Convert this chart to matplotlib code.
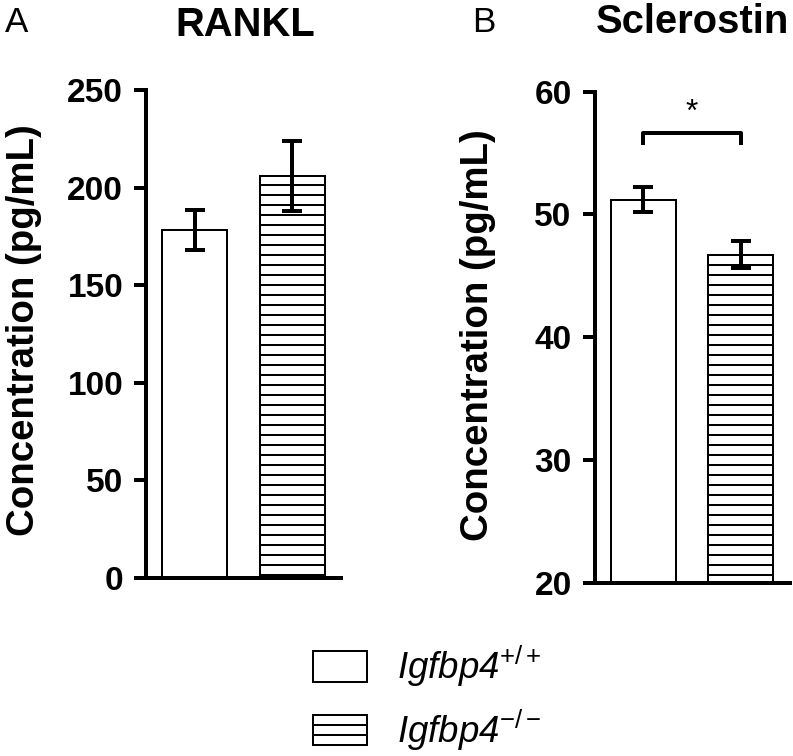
import matplotlib
matplotlib.use("Agg")
import matplotlib.pyplot as plt

plt.rcParams['font.family'] = ['Liberation Sans', 'DejaVu Sans']
plt.rcParams['mathtext.fontset'] = 'custom'
plt.rcParams['mathtext.it'] = 'Liberation Sans:italic'
plt.rcParams['mathtext.rm'] = 'Liberation Sans'
plt.rcParams['mathtext.default'] = 'it'
plt.rcParams['hatch.linewidth'] = 1.2

# ---- data ----
groups = ['Igfbp4+/+', 'Igfbp4-/-']
legend_labels = [r'Igfbp4$^{+/+}$', r'Igfbp4$^{-/-}$']
rankl_mean = [178.3, 205.8]
rankl_err = [10.0, 18.0]
scl_mean = [51.2, 46.7]
scl_err = [1.0, 1.1]
rankl_ticks = [0, 50, 100, 150, 200, 250]
scl_ticks = [20, 30, 40, 50, 60]
panel_titles = ['RANKL', 'Sclerostin']
panel_letters = ['A', 'B']
ylabel = 'Concentration (pg/mL)'

DPI = 120
fig = plt.figure(figsize=(793 / DPI, 756 / DPI), dpi=DPI)

axA = fig.add_axes([0.1841, 0.2354, 0.2459, 0.6455])
axB = fig.add_axes([0.7497, 0.2292, 0.2459, 0.6495])

hatches = ['', '--']
x = [0, 1]


def draw(ax, means, errs, ticks):
    bars = []
    for i in range(2):
        b = ax.bar(x[i], means[i], width=0.67, color='white', edgecolor='black',
                   linewidth=1.2, hatch=hatches[i], zorder=2)
        bars.append(b)
    ax.errorbar(x, means, yerr=errs, fmt='none', ecolor='black', elinewidth=2.4,
                capsize=6, capthick=2.4, zorder=3)
    ax.set_xlim(-0.5, 1.5)
    ax.set_ylim(ticks[0], ticks[-1])
    ax.set_yticks(ticks)
    ax.set_xticks([])
    for s in ['top', 'right']:
        ax.spines[s].set_visible(False)
    for s in ['left', 'bottom']:
        ax.spines[s].set_linewidth(2.4)
    ax.tick_params(axis='y', length=7.2, width=2.4, pad=6.5, labelsize=20)
    for lab in ax.get_yticklabels():
        lab.set_fontweight('bold')
    return bars


barsA = draw(axA, rankl_mean, rankl_err, rankl_ticks)
barsB = draw(axB, scl_mean, scl_err, scl_ticks)

# significance bracket
axB.plot([0, 0, 1, 1], [55.67, 56.67, 56.67, 55.67], color='black', lw=2.4,
         solid_capstyle='butt', clip_on=False)
axB.text(0.5, 57.6, '*', ha='center', va='baseline', fontsize=19)

# titles and letters
fig.text(245 / 793, 1 - 36 / 756, panel_titles[0], ha='center', va='baseline',
         fontsize=24, fontweight='bold')
fig.text(692 / 793, 1 - 33 / 756, panel_titles[1], ha='center', va='baseline',
         fontsize=24, fontweight='bold')
fig.text(5 / 793, 1 - 32 / 756, panel_letters[0], ha='left', va='baseline', fontsize=21)
fig.text(472 / 793, 1 - 32 / 756, panel_letters[1], ha='left', va='baseline', fontsize=21)

# y labels
fig.text(24 / 793, 1 - 330 / 756, ylabel, rotation=90, ha='center', va='center',
         fontsize=23, fontweight='bold')
fig.text(478 / 793, 1 - 335 / 756, ylabel, rotation=90, ha='center', va='center',
         fontsize=23, fontweight='bold')

# legend
fs = 22
fpx = fs * DPI / 72
leg = fig.legend([barsA[0], barsA[1]], legend_labels, loc='upper left',
                 bbox_to_anchor=(313 / 793, 1 - 644 / 756), frameon=False,
                 prop={'size': fs, 'style': 'italic'}, borderpad=0, borderaxespad=0,
                 handlelength=54 / fpx, handleheight=33 / fpx,
                 handletextpad=30 / fpx, labelspacing=0.5)

fig.savefig('out.png', dpi=DPI)
